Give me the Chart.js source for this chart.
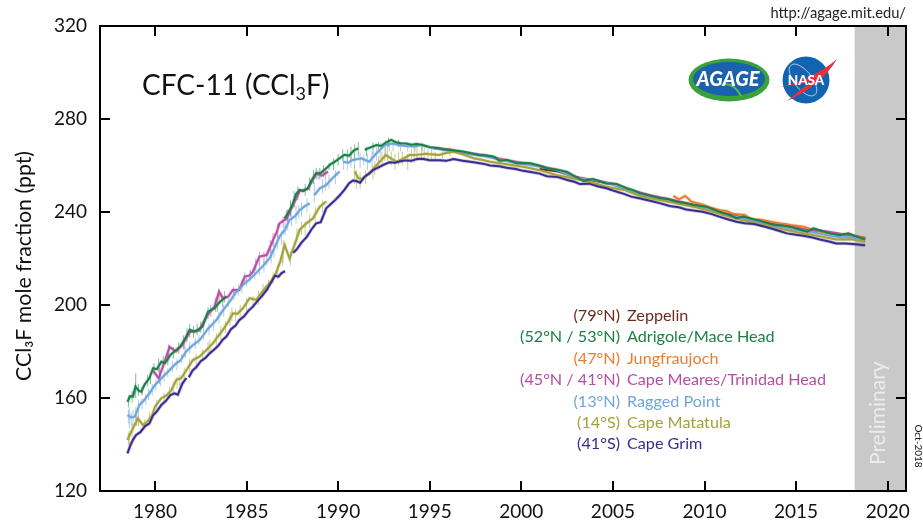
<!DOCTYPE html>
<html>
<head>
<meta charset="utf-8">
<title>CFC-11 (CCl3F)</title>
<script src="https://cdn.jsdelivr.net/npm/chart.js@4"></script>
<style>
  body { margin: 0; background: #fff; }
  #wrap { width: 923px; height: 521px; }
</style>
</head>
<body>
<div id="wrap"><canvas id="myChart" width="923" height="521"></canvas></div>
<script>
var xTickLabels = [1980, 1985, 1990, 1995, 2000, 2005, 2010, 2015, 2020];
var yTickLabels = [120, 160, 200, 240, 280, 320];
var preliminaryFrom = 2018.2;

var stationNames = ['Zeppelin', 'Adrigole/Mace Head', 'Jungfraujoch', 'Cape Meares/Trinidad Head', 'Ragged Point', 'Cape Matatula', 'Cape Grim'];
var stationLats = ['(79°N)', '(52°N / 53°N)', '(47°N)', '(45°N / 41°N)', '(13°N)', '(14°S)', '(41°S)'];
var stationColors = ['#6e2a1f', '#1b8046', '#ed7d31', '#b64fa3', '#6fa5d8', '#a3a33b', '#3a2c90'];

// [year, ppt]. null = break in the record
var zeppelin = [[2001,258.5],[2002,257.4],[2003,255],[2004,253.4],[2005,252],[2006,249],[2007,247],[2008,245.4],[2009,243.7],[2010,242],[2011,239],[2012,237.6],[2013,235.6],[2014,234.6],[2014.5,234.5],[2015,233],[2015.6,232.2],[2016.2,232],[2016.85,230.9],[2017.5,230.4],[2018,230],[2018.77,228.8]];

var adrigole = [[1978.5,158.4],[1978.65,160.8],[1978.8,160.6],[1978.94,164.9],[1979.1,163.2],[1979.25,162.7],[1979.45,166],[1979.7,168.6],[1979.9,172.8],[1980.1,172.4],[1980.35,175.6],[1980.55,175],[1980.85,178.6],[1981.16,180.6],[1981.4,182.4],[1981.65,185.6],[1981.9,189.3],[1982.16,188.5],[1982.4,189.6],[1982.6,190.7],[1982.75,194.2],[1982.9,197.1],[1983.25,198.6],[1983.55,201.4],[1983.9,203.6],[1984,null],
  [1987.08,237.3],[1987.3,240],[1987.5,243],[1987.7,247.6],[1987.9,249.5],[1988.1,249],[1988.35,250.2],[1988.55,253.6],[1988.8,256.6],[1989.05,256.8],[1989.35,258.8],[1989.6,260.6],[1989.85,261.8],[1990.08,263.1],[1990.35,264.6],[1990.6,264.2],[1990.85,266.4],[1991.1,267.4],[1991.25,null],
  [1991.45,266.7],[1991.7,267.6],[1992.1,268.8],[1992.35,268.4],[1992.6,269.8],[1992.9,271],[1993.15,270],[1993.4,269.6],[1993.7,269.5],[1994,268.9],[1994.3,269.2],[1994.6,268.8],[1995,267.9],[1995.5,267.4],[1995.8,266.9],[1996.1,266.7],[1996.8,266],[1997.2,265.4],[1997.7,264.5],[1998.1,264.3],[1998.5,263.8],[1998.8,262.1],[1999.2,262.4],[1999.75,261],[2000.1,261.1],[2000.5,261],[2001,259.9],[2001.4,258.8],[2002.1,258],[2002.5,257.2],[2002.8,255.9],[2003.1,254.6],[2003.4,253.4],[2003.9,254.2],[2004.3,253.2],[2004.65,252.3],[2005.2,252.1],[2005.75,250.2],[2006.1,249.4],[2006.5,248],[2006.9,247.3],[2007.6,245.9],[2008,245.6],[2008.5,244.4],[2009,243.8],[2009.4,243],[2010.1,242.3],[2010.5,241.1],[2010.8,240.1],[2011.3,238.9],[2011.75,237.3],[2012.1,238],[2012.85,236.6],[2013.3,235.6],[2013.8,234.4],[2014.2,234.2],[2014.7,233.7],[2015.2,232.5],[2015.6,231.5],[2015.95,233],[2016.4,231.8],[2016.85,230.8],[2017.4,230],[2017.85,230.8],[2018.3,229.4],[2018.77,228.2]];

var jungfraujoch = [[2008.3,246.9],[2008.6,245.4],[2008.95,246.9],[2009.3,244.4],[2009.85,243.3],[2010.3,242],[2010.85,240.8],[2011.2,240.4],[2011.6,239.1],[2012.2,238.7],[2012.6,236.6],[2013,236.8],[2013.9,235.4],[2014.7,234.4],[2015.4,233.7],[2016.1,232],[2016.85,230.8],[2017.8,230],[2018.77,228.9]];

var capeMeares = [[1979.9,171.8],[1980.2,168.5],[1980.5,175],[1980.8,182],[1981.15,180],[1981.5,182.8],[1981.9,188.4],[1982.4,189],[1982.9,196],[1983.25,199.3],[1983.5,205.7],[1983.7,203],[1984,203.6],[1984.25,206.5],[1984.6,206.5],[1984.9,212.2],[1985.15,212.6],[1985.35,214.3],[1985.7,220.8],[1986.1,221.5],[1986.45,228],[1986.65,231.4],[1986.8,235.1],[1987.2,237.3],[1987.5,242.3],[1987.9,249],[1988.35,250],[1988.8,256.6],[1989.1,255.6],[1989.45,257.4],[1989.5,null],
  [1995.2,267.5],[1996,267],[1997,265.4],[1998,264.4],[1999,262.6],[2000,261.2],[2001,259.8],[2002,258],[2003,255],[2004,253.6],[2005,252.2],[2006,249.4],[2007,247.2],[2008,245.6],[2009,243.8],[2010,242.2],[2011,239.6],[2012,237.8],[2013,235.8],[2014,234.4],[2015,233.2],[2015.6,232.4],[2016.2,232.1],[2016.85,231.4],[2017.4,230.6],[2018,229.8],[2018.77,228.4]];

var raggedPoint = [[1978.5,152.7],[1978.7,151.6],[1978.9,152],[1979.15,157],[1979.4,159],[1979.7,162],[1980,165.6],[1980.35,168.5],[1980.75,171.6],[1981.16,174.9],[1981.4,176.2],[1981.7,180],[1982.05,182.6],[1982.45,185],[1982.9,189.8],[1983.35,193.5],[1983.7,197.6],[1984.07,201.4],[1984.4,205.2],[1984.8,208.6],[1985.15,211],[1985.5,213.6],[1985.9,216.8],[1986.26,220.1],[1986.55,225],[1986.8,229.4],[1987.1,232.4],[1987.35,236.6],[1987.65,238.2],[1987.9,240.8],[1988.2,242.6],[1988.45,243.7],[1988.55,null],
  [1988.7,247.3],[1989,250.2],[1989.35,251.6],[1989.7,254.6],[1990.08,257.4],[1990.18,null],[1990.27,261.6],[1990.55,261.2],[1990.8,262.4],[1991.27,263.1],[1991.7,261.6],
  [1992,264.5],[1992.25,266.4],[1992.55,268.8],[1992.95,269.5],[1993.3,268.8],[1993.7,268.4],[1994.1,268.2],[1994.6,268.8],[1995.1,267.6],[1996,266.4],[1997,265],[1998,264],[1999,262.2],[2000,260.8],[2001,259.6],[2002,257.8],[2003,254.6],[2004,253.6],[2005,251.8],[2006,249],[2007,246.6],[2008,245],[2009,243.2],[2010,241.8],[2011,239],[2012,237.4],[2013,235.4],[2014,233.8],[2015,232.2],[2016,231.2],[2016.85,229.8],[2017.5,229],[2018,229.2],[2018.77,228]];

var capeMatatula = [[1978.5,142],[1978.65,144.6],[1978.8,147],[1979.07,151.2],[1979.34,148.4],[1979.6,150],[1979.85,152.7],[1980,156.3],[1980.35,159.9],[1980.65,161.2],[1980.9,163.4],[1981.16,167.7],[1981.43,168.5],[1981.75,172.4],[1982.07,176.3],[1982.43,177.8],[1982.8,180.6],[1983.16,183.5],[1983.45,186.6],[1983.7,189.2],[1984,192.8],[1984.26,196.4],[1984.5,196.2],[1984.8,198.6],[1985.17,202.9],[1985.53,202.2],[1985.8,205],[1986.08,207.9],[1986.35,210.4],[1986.6,213.6],[1986.85,219],[1987.08,225.8],[1987.35,220],[1987.65,226.6],[1987.9,232.3],[1988.25,235],[1988.63,237.3],[1988.85,240.4],[1989,242.3],[1989.35,244.5],[1989.45,null],
  [1990.9,257.4],[1991.1,254.6],[1991.3,254.2],[1991.7,256.6],[1992.2,261],[1992.6,264.5],[1992.9,263],[1993.2,261.6],[1993.55,263],[1993.9,264.5],[1994.35,264.6],[1994.8,265],[1995.5,264.5],[1995.9,265.4],[1996.3,266],[1996.8,264.8],[1997.4,263.1],[1997.9,262.4],[1998.3,261.6],[1999.2,260.5],[2000.1,259.5],[2001,258],[2001.9,255.9],[2002.8,254.5],[2003.7,253],[2004.65,250.9],[2005.6,249.5],[2006.5,246.9],[2007.4,245.4],[2008.3,244],[2009.2,242.6],[2010,241.2],[2011,238.8],[2012,236.6],[2013,234.8],[2014,233],[2015,231.4],[2016,230],[2017.2,228.2],[2018,228.3],[2018.77,227.2]];

var capeGrim = [[1978.5,136.2],[1978.65,139.5],[1978.8,142],[1978.97,144.1],[1979.2,145.3],[1979.45,147.8],[1979.7,149.1],[1979.9,152.6],[1980.1,154.2],[1980.35,157],[1980.6,158.8],[1980.85,161.3],[1981.07,162],[1981.25,161.4],[1981.5,166.3],[1981.72,168.6],[1981.78,null],
  [1981.85,168.9],[1982.05,171.8],[1982.25,173.2],[1982.5,175.8],[1982.75,177.2],[1983,179.3],[1983.2,180.6],[1983.45,182.4],[1983.7,185.1],[1983.9,186.4],[1984.15,189.6],[1984.4,191.2],[1984.6,193.5],[1984.85,195],[1985.1,197.5],[1985.35,199.3],[1985.6,201.8],[1985.85,203.9],[1986.1,206.5],[1986.35,209.8],[1986.55,212.6],[1986.75,212.2],[1986.9,213.6],[1987.1,214.6],[1987.3,null],
  [1987.55,222.5],[1987.75,224],[1988,226.8],[1988.3,229.4],[1988.55,232.6],[1988.8,235.1],[1989.05,235.6],[1989.35,241.6],[1989.6,243.4],[1989.85,245.2],[1990.1,247.3],[1990.35,249.6],[1990.6,252.4],[1990.8,253.5],[1991,253.3],[1991.2,252.6],[1991.45,255.2],[1991.7,256.6],[1991.9,258],[1992.2,259.2],[1992.5,260.4],[1992.8,261.4],[1993.1,261.2],[1993.4,261.8],[1993.7,262.2],[1994,262],[1994.3,262.8],[1994.6,262.9],[1995,262.3],[1995.5,262.3],[1995.9,262],[1996.3,262.8],[1996.8,262],[1997.4,261.4],[1997.9,260.8],[1998.3,260],[1998.8,259.7],[1999.2,259],[1999.7,258.5],[2000.1,257.7],[2000.6,257.1],[2001,256.5],[2001.4,255.4],[2002,255],[2002.5,253.8],[2002.9,253],[2003.2,252],[2003.7,252.2],[2004.2,251],[2004.65,250.2],[2005.1,249],[2005.6,247.8],[2006,246.6],[2006.5,245.8],[2007.2,244.5],[2007.6,243.7],[2008.1,242.6],[2008.6,242],[2009,241.1],[2009.5,240.5],[2009.9,240.1],[2010.4,239.1],[2010.8,238],[2011.3,236.8],[2011.75,235.8],[2012.2,235.2],[2012.7,234.8],[2013.2,233.9],[2013.6,233],[2014.1,231.8],[2014.5,230.8],[2015,230.2],[2015.4,229.8],[2015.9,229],[2016.3,228.2],[2016.8,227.3],[2017.2,226.5],[2017.7,226.5],[2018.1,226.2],[2018.77,225.7]];

// pollution / noise spikes in the raw data: [year, low, high]
var adrigoleSpikes = [[1978.55,156,161],[1978.75,158,163],[1978.95,160,170.6],[1979.1,161,166],[1979.3,161,165],[1979.6,165,170],[1979.75,166,171],[1979.95,170,175],[1980.2,171,177],[1980.45,173,178],[1980.7,174,179],[1981,177,182],[1981.3,179,184],[1981.55,181,187],[1981.75,184,190],[1981.9,186,192],[1982.1,186,191],[1982.3,187,192],[1982.5,188,193],[1982.9,194,199],[1983.05,195,200],[1983.4,197,202],[1983.7,199,204],[1987.2,236,241],[1987.4,238,245],[1987.6,242,249],[1987.8,245,251],[1988.2,247,252],[1988.45,249,255],[1988.65,252,258],[1988.8,254,259],[1989,254,259],[1989.2,255,260],[1989.5,258,261],[1989.75,258,263],[1990,260,265],[1990.25,262,267],[1990.5,262,267],[1990.7,262,268],[1990.9,263,269],[1991.1,264,270],[1991.55,264,268],[1991.9,265,270],[1992.2,266,270],[1992.75,268,272],[1993.3,268,271]];
var capeMearesSpikes = [[1980.25,166,173],[1980.75,176,183],[1981.6,181,186],[1983.3,197,203],[1983.5,201,207],[1983.8,201,206],[1984.3,204,208],[1984.9,209,214],[1985.2,211,215],[1985.5,215,220],[1985.7,217,223],[1985.95,218,223],[1986.3,222,228],[1986.45,225,231],[1986.7,229,235],[1987,233,238],[1987.25,236,241],[1988.9,254,258],[1989.3,254,259]];
var raggedSpikes = [[1978.55,149,155],[1978.6,147,156],[1978.7,148,154],[1978.8,148,155],[1978.95,150,156],[1979.1,153,159],[1979.3,155,160],[1979.5,157,162],[1979.65,159,164],[1979.85,161,166],[1980.05,163,168],[1980.3,165,171],[1980.5,167,172],[1980.7,169,173],[1980.95,171,176],[1981.2,172,177],[1981.45,175,179],[1981.65,177,182],[1981.9,179,184],[1982.2,181,186],[1982.4,183,187],[1982.65,185,190],[1982.95,187,192],[1983.2,189,194],[1983.5,192,197],[1983.75,195,200],[1984,199,203],[1984.3,202,207],[1984.55,204,209],[1984.75,205,211],[1985,208,213],[1985.2,210,215],[1985.45,211,216],[1985.7,213,218],[1985.95,214,219],[1986.1,217,222],[1986.35,218,224],[1986.5,220,227],[1986.7,224,230],[1986.9,226,232],[1987.1,230,236],[1987.25,232,238],[1987.45,234,240],[1987.7,235,243],[1987.85,237,243],[1988,238,244],[1988.3,240,246],[1988.7,244,253],[1989.15,248,254],[1989.3,249,254],[1989.5,250,256],[1989.85,252,258],[1990.3,258,264],[1990.5,258,264],[1990.7,259,264],[1990.9,259,265],[1991.2,259,266],[1991.4,260,265],[1991.6,258,265],[1991.85,259,266],[1992.1,262,268],[1992.3,263,270],[1992.6,265,271],[1992.8,266,271],[1993,266,271],[1993.4,266,270],[1993.8,266,270],[1994.2,266,270],[1994.6,266,270]];
var matatulaSpikes = [[1978.55,140,145],[1978.6,139,146],[1978.75,143,149],[1979,148,153],[1979.1,148,153],[1979.45,147,151],[1979.7,149,154],[1980.1,155,159],[1980.5,158,162],[1980.8,160,165],[1981,162,167],[1981.2,164,169],[1981.35,165,170],[1981.6,167,173],[1981.9,171,177],[1982.25,174,179],[1982.6,176,181],[1982.9,179,184],[1983,179,185],[1983.35,182,188],[1983.6,185,191],[1983.85,188,193],[1984.1,191,197],[1984.2,193,199],[1984.4,193,198],[1984.65,194,200],[1985,197,203],[1985.35,199,204],[1985.65,200,206],[1985.9,204,209],[1986.2,206,211],[1986.45,209,214],[1986.7,211,217],[1986.95,217,223],[1987,218,228],[1987.4,217,223],[1987.75,227,233],[1988,230,236],[1988.2,230,236],[1988.45,233,239],[1988.75,236,242],[1989.15,240,245],[1990.9,252,260],[1991,250,258],[1991.2,250,257],[1991.5,252,258],[1991.9,254,260],[1992,256,262],[1992.2,258,264],[1992.4,260,266],[1992.55,262,268],[1992.7,262,269],[1992.9,260,266],[1993.1,258,265],[1993.3,260,266],[1993.5,260,266],[1993.8,258,265],[1994,261,267],[1994.15,261,268],[1994.3,262,268],[1994.55,263,268],[1994.7,262,269],[1994.9,262,267],[1995.1,262,267],[1995.3,262,266],[1995.7,263,266],[1996.1,264,268]];

function toPoints(rows) {
  return rows.map(function(r) { return { x: r[0], y: r[1] }; });
}

function spikePoints(rows) {
  var pts = [];
  rows.forEach(function(r) {
    pts.push({ x: r[0], y: r[1] }, { x: r[0], y: r[2] }, { x: r[0], y: null });
  });
  return pts;
}

function hexAlpha(hex, a) {
  var n = parseInt(hex.slice(1), 16);
  return 'rgba(' + (n >> 16) + ',' + ((n >> 8) & 255) + ',' + (n & 255) + ',' + a + ')';
}

// order: higher goes further back
function lineSet(label, rows, color, order) {
  return { label: label, data: toPoints(rows), borderColor: color, borderWidth: 2, pointRadius: 0, tension: 0, order: order };
}
function haloSet(label, rows, color, order) {
  return { label: label + ' raw', data: toPoints(rows), borderColor: hexAlpha(color, 0.28), borderWidth: 3.5, pointRadius: 0, tension: 0, order: order };
}
function spikeSet(label, rows, color, order) {
  return { label: label + ' spikes', data: spikePoints(rows), borderColor: hexAlpha(color, 0.55), borderWidth: 1, pointRadius: 0, order: order };
}

var datasets = [
  haloSet(stationNames[4], raggedPoint, stationColors[4], 40),
  spikeSet(stationNames[4], raggedSpikes, stationColors[4], 40),
  lineSet(stationNames[4], raggedPoint, stationColors[4], 16),
  haloSet(stationNames[5], capeMatatula, stationColors[5], 40),
  spikeSet(stationNames[5], matatulaSpikes, stationColors[5], 40),
  lineSet(stationNames[5], capeMatatula, stationColors[5], 15),
  lineSet(stationNames[0], zeppelin, stationColors[0], 21),
  lineSet(stationNames[2], jungfraujoch, stationColors[2], 20),
  haloSet(stationNames[2], jungfraujoch, stationColors[2], 40),
  lineSet(stationNames[3], capeMeares, stationColors[3], 19),
  spikeSet(stationNames[3], capeMearesSpikes, stationColors[3], 40),
  haloSet(stationNames[3], capeMeares, stationColors[3], 40),
  lineSet(stationNames[1], adrigole, stationColors[1], 12),
  haloSet(stationNames[1], adrigole, stationColors[1], 40),
  spikeSet(stationNames[1], adrigoleSpikes, stationColors[1], 40),
  haloSet(stationNames[6], capeGrim, stationColors[6], 40),
  lineSet(stationNames[6], capeGrim, stationColors[6], 10)
];

var FONT = 'Lato, "Open Sans", sans-serif';

var frame = {
  id: 'frame',
  beforeDatasetsDraw: function(chart) {
    var ctx = chart.ctx, a = chart.chartArea, x = chart.scales.x;
    var left = x.getPixelForValue(preliminaryFrom);
    ctx.save();
    ctx.fillStyle = '#c9c9c9';
    ctx.fillRect(left, a.top, a.right - left, a.bottom - a.top);
    ctx.translate(885, 465);
    ctx.rotate(-Math.PI / 2);
    ctx.fillStyle = '#ececec';
    ctx.font = '21px ' + FONT;
    ctx.textAlign = 'left';
    ctx.textBaseline = 'alphabetic';
    ctx.fillText('Preliminary', 0, 0);
    ctx.restore();
  },
  afterDraw: function(chart) {
    var ctx = chart.ctx, a = chart.chartArea, x = chart.scales.x, y = chart.scales.y;
    var tick = 10;
    ctx.save();
    ctx.strokeStyle = '#000';
    ctx.lineWidth = 2;
    ctx.beginPath();
    xTickLabels.forEach(function(v) {
      var p = Math.round(x.getPixelForValue(v));
      ctx.moveTo(p, a.bottom); ctx.lineTo(p, a.bottom - tick);
      ctx.moveTo(p, a.top); ctx.lineTo(p, a.top + tick);
    });
    yTickLabels.forEach(function(v) {
      var p = Math.round(y.getPixelForValue(v));
      ctx.moveTo(a.left, p); ctx.lineTo(a.left + tick, p);
      ctx.moveTo(a.right, p); ctx.lineTo(a.right - tick, p);
    });
    ctx.stroke();
    ctx.strokeRect(a.left, a.top, a.right - a.left, a.bottom - a.top);

    // plot title with subscript
    ctx.fillStyle = '#111';
    ctx.textAlign = 'left';
    ctx.textBaseline = 'alphabetic';
    var tx = 142;
    ctx.font = '28px ' + FONT;
    ctx.fillText('CFC-11 (CCl', tx, 95);
    tx += ctx.measureText('CFC-11 (CCl').width;
    ctx.font = '18px ' + FONT;
    ctx.fillText('3', tx, 100);
    tx += ctx.measureText('3').width;
    ctx.font = '28px ' + FONT;
    ctx.fillText('F)', tx, 95);

    // axis title, sits off centre in the original
    ctx.save();
    ctx.translate(31, 381);
    ctx.rotate(-Math.PI / 2);
    ctx.font = '21.3px ' + FONT;
    ctx.fillText('CCl₃F mole fraction (ppt)', 0, 0);
    ctx.restore();

    // station key
    ctx.font = '16.2px ' + FONT;
    stationNames.forEach(function(name, i) {
      var ty = 321 + i * 21.4;
      ctx.fillStyle = stationColors[i];
      ctx.textAlign = 'right';
      ctx.fillText(stationLats[i], 620, ty);
      ctx.textAlign = 'left';
      ctx.fillText(name, 627, ty);
    });

    ctx.fillStyle = '#222';
    ctx.textAlign = 'right';
    ctx.font = '14.7px ' + FONT;
    ctx.fillText('http://agage.mit.edu/', 906, 18);

    ctx.save();
    ctx.translate(915, 446);
    ctx.rotate(Math.PI / 2);
    ctx.textAlign = 'center';
    ctx.font = '10px ' + FONT;
    ctx.fillStyle = '#111';
    ctx.fillText('Oct-2018', 0, 0);
    ctx.restore();

    drawAgage(ctx);
    drawNasa(ctx);
    ctx.restore();
  }
};

function drawAgage(ctx) {
  ctx.save();
  ctx.fillStyle = '#3aa23a';
  ctx.beginPath(); ctx.ellipse(729, 80, 40.5, 21.5, 0, 0, Math.PI * 2); ctx.fill();
  ctx.fillStyle = '#1a62ad';
  ctx.beginPath(); ctx.ellipse(729, 79, 36, 17, 0, 0, Math.PI * 2); ctx.fill();
  ctx.strokeStyle = '#5cb84a';
  ctx.lineWidth = 2;
  ctx.beginPath(); ctx.moveTo(724, 84); ctx.quadraticCurveTo(735, 84, 741, 96); ctx.stroke();
  ctx.fillStyle = '#fff';
  ctx.font = 'italic 900 20px ' + FONT;
  ctx.textAlign = 'center';
  ctx.fillText('AGAGE', 728, 86);
  ctx.restore();
}

function drawNasa(ctx) {
  ctx.save();
  ctx.fillStyle = '#1263b0';
  ctx.beginPath(); ctx.arc(806, 80, 23.5, 0, Math.PI * 2); ctx.fill();
  ctx.strokeStyle = '#cfe0f2';
  ctx.lineWidth = 0.8;
  ctx.beginPath(); ctx.ellipse(803, 80, 19, 9, 0.9, 0, Math.PI * 2); ctx.stroke();
  ctx.fillStyle = '#e8303a';
  ctx.beginPath();
  ctx.moveTo(780, 87);
  ctx.quadraticCurveTo(815, 78, 837, 59);
  ctx.quadraticCurveTo(822, 85, 787, 101);
  ctx.quadraticCurveTo(805, 86, 812, 81);
  ctx.quadraticCurveTo(795, 85, 780, 87);
  ctx.fill();
  ctx.fillStyle = '#fff';
  ctx.font = '900 13.5px ' + FONT;
  ctx.textAlign = 'center';
  ctx.fillText('NASA', 806, 85);
  ctx.restore();
}

var chart = new Chart(document.getElementById('myChart').getContext('2d'), {
  type: 'line',
  data: { datasets: datasets },
  options: {
    responsive: false,
    animation: false,
    parsing: false,
    normalized: false,
    spanGaps: false,
    layout: { padding: { top: 26, right: 17, left: 0, bottom: 0 } },
    plugins: { legend: { display: false }, tooltip: { enabled: false }, title: { display: false } },
    scales: {
      x: {
        type: 'linear',
        min: 1977,
        max: 2021,
        grid: { display: false },
        border: { display: false },
        afterBuildTicks: function(s) { s.ticks = xTickLabels.map(function(v) { return { value: v }; }); },
        afterFit: function(s) { s.height = 30; },
        ticks: {
          autoSkip: false,
          maxRotation: 0,
          padding: 1,
          color: '#111',
          font: { family: FONT, size: 19 },
          callback: function(v) { return String(v); }
        }
      },
      y: {
        min: 120,
        max: 320,
        grid: { display: false },
        border: { display: false },
        afterBuildTicks: function(s) { s.ticks = yTickLabels.map(function(v) { return { value: v }; }); },
        afterFit: function(s) { s.width = 100; },
        ticks: {
          padding: 5,
          color: '#111',
          font: { family: FONT, size: 19 }
        }
      }
    }
  },
  plugins: [frame]
});
</script>
</body>
</html>
